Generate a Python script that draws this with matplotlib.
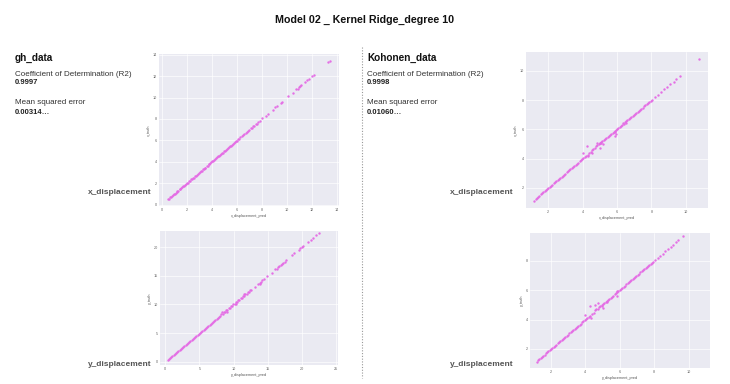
import matplotlib
matplotlib.use("Agg")
import matplotlib.pyplot as plt
import seaborn as sns
from matplotlib.lines import Line2D

sns.set_theme(style="darkgrid")
plt.rcParams['font.family'] = ['Liberation Sans', 'DejaVu Sans']

# ---------------- data ----------------
title = "Model 02 _ Kernel Ridge_degree 10"
datasets = ["gh_data", "Kohonen_data"]
r2_values = ["0.9997", "0.9998"]
mse_values = ["0.00314\u2026", "0.01060\u2026"]
row_labels = ["x_displacement", "y_displacement"]

# gh_data x_displacement
gh_x_pred = [0.52, 0.6, 0.68, 0.75, 0.81, 0.9, 0.97, 1.05, 1.12, 1.2, 1.27, 1.35, 1.44, 1.5, 1.58,
             1.66, 1.73, 1.8, 1.88, 1.95, 2.04, 2.1, 2.18, 2.27, 2.35, 2.42, 2.5, 2.57, 2.66, 2.73,
             2.8, 2.9, 2.97, 3.05, 3.12, 3.2, 3.28, 3.36, 3.43, 3.5, 3.6, 3.67, 3.75, 3.82, 3.9,
             3.98, 4.05, 4.13, 4.2, 4.28, 4.36, 4.44, 4.5, 4.6, 4.67, 4.75, 4.83, 4.9, 4.98, 5.06,
             5.13, 5.2, 5.3, 5.37, 5.45, 5.52, 5.6, 5.68, 5.75, 5.85, 5.93, 6.0, 6.1, 6.2, 6.28,
             6.4, 6.5, 6.58, 6.7, 6.8, 6.9, 7.0, 7.1, 7.22, 7.3, 7.4, 7.52, 7.6, 7.72, 7.85, 8.05,
             8.3, 8.45, 8.9, 9.05, 9.2, 9.5, 9.62, 10.1, 10.45, 10.75, 10.85, 10.95, 11.05, 11.1,
             11.45, 11.6, 11.75, 12.0, 12.15, 13.25, 13.45]
gh_x_truth = [0.55, 0.58, 0.7, 0.73, 0.84, 0.88, 1.0, 1.03, 1.15, 1.18, 1.3, 1.33, 1.46, 1.48, 1.6,
              1.64, 1.76, 1.78, 1.9, 1.93, 2.06, 2.08, 2.2, 2.25, 2.37, 2.4, 2.52, 2.55, 2.68, 2.71,
              2.82, 2.88, 2.99, 3.03, 3.14, 3.18, 3.3, 3.34, 3.45, 3.48, 3.62, 3.65, 3.77, 3.8, 3.92,
              3.96, 4.07, 4.11, 4.22, 4.26, 4.38, 4.42, 4.52, 4.58, 4.69, 4.73, 4.85, 4.88, 5.0, 5.04,
              5.15, 5.18, 5.32, 5.35, 5.47, 5.5, 5.62, 5.66, 5.77, 5.83, 5.95, 5.98, 6.12, 6.18, 6.3,
              6.38, 6.52, 6.56, 6.72, 6.78, 6.92, 6.98, 7.12, 7.2, 7.32, 7.38, 7.54, 7.58, 7.74, 7.83,
              8.07, 8.28, 8.47, 8.88, 9.07, 9.18, 9.52, 9.6, 10.12, 10.43, 10.77, 10.83, 10.97, 11.03,
              11.12, 11.43, 11.62, 11.73, 12.02, 12.13, 13.27, 13.43]

# Kohonen_data x_displacement
ko_x_pred = [1.2, 1.28, 1.35, 1.42, 1.5, 1.57, 1.65, 1.72, 1.8, 1.87, 1.95, 2.02, 2.1, 2.17, 2.25,
             2.33, 2.4, 2.48, 2.55, 2.63, 2.7, 2.78, 2.85, 2.93, 3.0, 3.08, 3.15, 3.23, 3.3, 3.38,
             3.45, 3.53, 3.6, 3.68, 3.75, 3.83, 3.9, 3.98, 4.05, 4.12, 4.2, 4.3, 4.4, 4.5, 4.55,
             4.62, 4.7, 4.8, 4.85, 4.95, 5.0, 5.08, 5.15, 5.22, 5.3, 5.38, 5.45, 5.52, 5.6, 5.68,
             5.75, 5.82, 5.87, 5.9, 5.95, 6.0, 6.08, 6.15, 6.22, 6.3, 6.38, 6.45, 6.52, 6.6, 6.68,
             6.75, 6.82, 6.9, 6.97, 7.05, 7.12, 7.2, 7.28, 7.35, 7.42, 7.5, 7.57, 7.65, 7.72, 7.8,
             7.88, 7.95, 8.05, 8.2, 8.4, 8.55, 8.75, 8.9, 9.1, 9.3, 9.45, 9.65, 10.75,
             4.05, 4.24, 4.53, 4.85, 5.0, 5.1, 5.0, 5.88, 5.95, 4.3, 5.2, 6.35, 6.5]
ko_x_truth = [1.12, 1.25, 1.33, 1.4, 1.46, 1.55, 1.62, 1.7, 1.78, 1.85, 1.92, 2.0, 2.08, 2.15, 2.22,
              2.3, 2.38, 2.46, 2.53, 2.61, 2.68, 2.76, 2.83, 2.91, 2.98, 3.06, 3.13, 3.21, 3.28, 3.36,
              3.43, 3.51, 3.58, 3.66, 3.73, 3.81, 3.88, 3.96, 4.02, 4.1, 4.16, 4.25, 4.36, 4.46, 4.6,
              4.66, 4.75, 4.86, 4.92, 5.0, 5.05, 5.12, 5.18, 5.26, 5.33, 5.4, 5.48, 5.55, 5.63, 5.7,
              5.77, 5.85, 5.92, 5.85, 5.98, 6.02, 6.1, 6.17, 6.25, 6.33, 6.4, 6.48, 6.55, 6.62, 6.7,
              6.77, 6.84, 6.92, 6.99, 7.06, 7.13, 7.21, 7.28, 7.35, 7.42, 7.5, 7.57, 7.64, 7.72, 7.79,
              7.87, 7.94, 8.04, 8.2, 8.38, 8.56, 8.74, 8.9, 9.1, 9.28, 9.46, 9.68, 10.8,
              4.37, 4.89, 4.4, 5.08, 5.1, 5.05, 4.73, 5.55, 5.7, 4.18, 5.02, 6.45, 6.42]

# gh_data y_displacement
gh_y_pred = [0.35, 0.52, 0.7, 0.88, 1.05, 1.22, 1.4, 1.58, 1.75, 1.92, 2.1, 2.28, 2.45, 2.62, 2.8,
             2.98, 3.15, 3.32, 3.5, 3.68, 3.85, 4.02, 4.2, 4.38, 4.55, 4.72, 4.9, 5.08, 5.25, 5.42,
             5.6, 5.78, 5.95, 6.12, 6.3, 6.48, 6.65, 6.82, 7.0, 7.18, 7.35, 7.52, 7.7, 7.88, 8.05,
             8.22, 8.4, 8.58, 8.75, 8.92, 9.1, 9.28, 9.45, 9.62, 9.8, 9.98, 10.15, 10.32, 10.5, 10.68,
             10.85, 11.02, 11.2, 11.38, 11.55, 11.72, 11.9, 12.08, 12.25, 12.42, 12.6, 13.1, 13.6, 13.8,
             14.0, 14.2, 14.45, 14.9, 15.6, 16.1, 16.3, 16.5, 16.7, 16.9, 17.1, 17.3, 17.5, 17.75, 18.6,
             18.9, 19.6, 19.8, 20.0, 20.2, 20.9, 21.3, 21.7, 22.1, 22.5, 23.1, 23.7, 24.1,
             8.3, 9.0, 10.4, 11.6, 13.9]
gh_y_truth = [0.32, 0.55, 0.68, 0.9, 1.03, 1.25, 1.38, 1.6, 1.73, 1.95, 2.08, 2.3, 2.43, 2.65, 2.78,
              3.0, 3.13, 3.35, 3.48, 3.7, 3.83, 4.05, 4.18, 4.4, 4.53, 4.75, 4.88, 5.1, 5.23, 5.45,
              5.58, 5.8, 5.93, 6.15, 6.28, 6.5, 6.63, 6.85, 6.98, 7.2, 7.33, 7.55, 7.68, 7.9, 8.03,
              8.25, 8.38, 8.6, 8.73, 8.95, 9.08, 9.3, 9.43, 9.65, 9.78, 10.0, 10.13, 10.35, 10.48, 10.7,
              10.83, 11.05, 11.18, 11.4, 11.53, 11.75, 11.88, 12.1, 12.23, 12.45, 12.58, 13.12, 13.58, 13.83,
              13.98, 14.22, 14.43, 14.92, 15.58, 16.12, 16.28, 16.52, 16.68, 16.92, 17.08, 17.32, 17.48, 17.77, 18.58,
              18.92, 19.58, 19.82, 19.98, 20.22, 20.88, 21.32, 21.68, 22.12, 22.48, 23.12, 23.68, 24.12,
              8.6, 8.75, 10.15, 11.85, 13.6]

# Kohonen_data y_displacement
ko_y_pred = [1.2, 1.28, 1.35, 1.42, 1.5, 1.57, 1.65, 1.72, 1.8, 1.87, 1.95, 2.02, 2.1, 2.17, 2.25,
             2.33, 2.4, 2.48, 2.55, 2.63, 2.7, 2.78, 2.85, 2.93, 3.0, 3.08, 3.15, 3.23, 3.3, 3.38,
             3.45, 3.53, 3.6, 3.68, 3.75, 3.83, 3.9, 3.98, 4.05, 4.12, 4.2, 4.3, 4.4, 4.5, 4.58,
             4.65, 4.72, 4.8, 4.88, 4.95, 5.02, 5.1, 5.18, 5.25, 5.32, 5.4, 5.48, 5.55, 5.62, 5.7,
             5.78, 5.85, 5.92, 6.0, 6.08, 6.15, 6.22, 6.3, 6.38, 6.45, 6.52, 6.6, 6.68, 6.75, 6.82,
             6.9, 6.97, 7.05, 7.12, 7.2, 7.28, 7.35, 7.42, 7.5, 7.57, 7.65, 7.72, 7.8, 7.88, 7.95,
             8.05, 8.2, 8.35, 8.5, 8.65, 8.8, 8.95, 9.1, 9.25, 9.4, 9.65,
             3.99, 4.28, 4.57, 4.75, 5.0, 5.25, 5.82, 5.87, 5.05, 4.35]
ko_y_truth = [1.13, 1.25, 1.33, 1.4, 1.46, 1.55, 1.62, 1.7, 1.78, 1.85, 1.92, 2.0, 2.08, 2.15, 2.22,
              2.3, 2.38, 2.46, 2.53, 2.61, 2.68, 2.76, 2.83, 2.91, 2.98, 3.06, 3.13, 3.21, 3.28, 3.36,
              3.43, 3.51, 3.58, 3.66, 3.73, 3.81, 3.88, 3.96, 4.02, 4.1, 4.17, 4.26, 4.37, 4.48, 4.62,
              4.7, 4.75, 4.85, 4.93, 5.0, 5.05, 5.12, 5.2, 5.27, 5.34, 5.42, 5.5, 5.57, 5.64, 5.72,
              5.79, 5.86, 5.93, 6.02, 6.1, 6.17, 6.25, 6.32, 6.4, 6.47, 6.54, 6.62, 6.69, 6.77, 6.84,
              6.92, 6.99, 7.06, 7.13, 7.21, 7.28, 7.35, 7.43, 7.5, 7.57, 7.65, 7.72, 7.8, 7.87, 7.95,
              8.06, 8.2, 8.36, 8.5, 8.66, 8.8, 8.96, 9.1, 9.26, 9.42, 9.72,
              4.34, 4.9, 5.0, 5.15, 4.92, 5.2, 5.59, 5.93, 4.8, 4.1]

panels = [
    dict(x=gh_x_pred, y=gh_x_truth, xlabel="x_displacement_pred", ylabel="x_truth",
         xlim=(-0.2, 14.15), ylim=(-0.1, 14.05), xt=range(0, 15, 2), yt=range(0, 15, 2),
         rect=[159, 54, 339, 206]),
    dict(x=ko_x_pred, y=ko_x_truth, xlabel="x_displacement_pred", ylabel="x_truth",
         xlim=(0.72, 11.28), ylim=(0.62, 11.3), xt=range(2, 11, 2), yt=range(2, 11, 2),
         rect=[526, 52, 708, 208]),
    dict(x=gh_y_pred, y=gh_y_truth, xlabel="y_displacement_pred", ylabel="y_truth",
         xlim=(-0.78, 25.3), ylim=(-0.58, 22.85), xt=range(0, 26, 5), yt=range(0, 21, 5),
         rect=[160, 231, 338, 365]),
    dict(x=ko_y_pred, y=ko_y_truth, xlabel="y_displacement_pred", ylabel="y_truth",
         xlim=(0.8, 11.23), ylim=(0.7, 9.9), xt=range(2, 11, 2), yt=range(2, 9, 2),
         rect=[530, 233, 710, 368]),
]

W, H = 730, 384
fig = plt.figure(figsize=(W / 100, H / 100), dpi=100)
fig.patch.set_facecolor("white")

def fx(px):
    return px / W

def fy(py):
    return 1 - py / H

for p in panels:
    l, t, r, b = p["rect"]
    ax = fig.add_axes([fx(l), fy(b), (r - l) / W, (b - t) / H])
    ax.set_facecolor("#EAEAF2")
    ax.scatter(p["x"], p["y"], s=3.0, color="#E46AE4", linewidths=0, alpha=0.95)
    ax.set_xlim(*p["xlim"])
    ax.set_ylim(*p["ylim"])
    ax.set_xticks(list(p["xt"]))
    ax.set_yticks(list(p["yt"]))
    ax.grid(True, color="white", linewidth=0.45)
    for s in ax.spines.values():
        s.set_visible(False)
    ax.tick_params(axis="both", labelsize=2.7, colors="#666666", length=0, pad=1.5)
    ax.set_xlabel(p["xlabel"], fontsize=2.7, color="#555555", labelpad=1.5)
    ax.set_ylabel(p["ylabel"], fontsize=2.7, color="#555555", labelpad=1.5)

# title
fig.text(fx(365), fy(20), title, ha="center", va="center", fontsize=7.7,
         fontweight="bold", color="#111111")

# left / right info blocks
for x0, name, r2, mse in zip([15, 367], datasets, r2_values, mse_values):
    fig.text(fx(x0), fy(58), name, ha="left", va="center", fontsize=7.2,
             fontweight="bold", color="#111111")
    fig.text(fx(x0), fy(74), "Coefficient of Determination (R2)", ha="left", va="center",
             fontsize=5.8, color="#333333")
    fig.text(fx(x0), fy(82.5), r2, ha="left", va="center", fontsize=5.5,
             fontweight="bold", color="#222222")
    fig.text(fx(x0), fy(103), "Mean squared error", ha="left", va="center",
             fontsize=5.8, color="#333333")
    fig.text(fx(x0), fy(112), mse, ha="left", va="center", fontsize=5.5,
             fontweight="bold", color="#222222")

# row labels
for xr, ys in [(152, [192, 365]), (514, [192, 365])]:
    for lab, yy in zip(row_labels, ys):
        fig.text(fx(xr), fy(yy), lab, ha="right", va="center", fontsize=6,
                 fontweight="bold", color="#555555")

# dotted separator
fig.add_artist(Line2D([fx(362), fx(362)], [fy(47), fy(378)], transform=fig.transFigure,
                      color="#999999", linewidth=0.8, linestyle=(0, (1, 1.5))))

fig.savefig("out.png", dpi=100, facecolor="white")
